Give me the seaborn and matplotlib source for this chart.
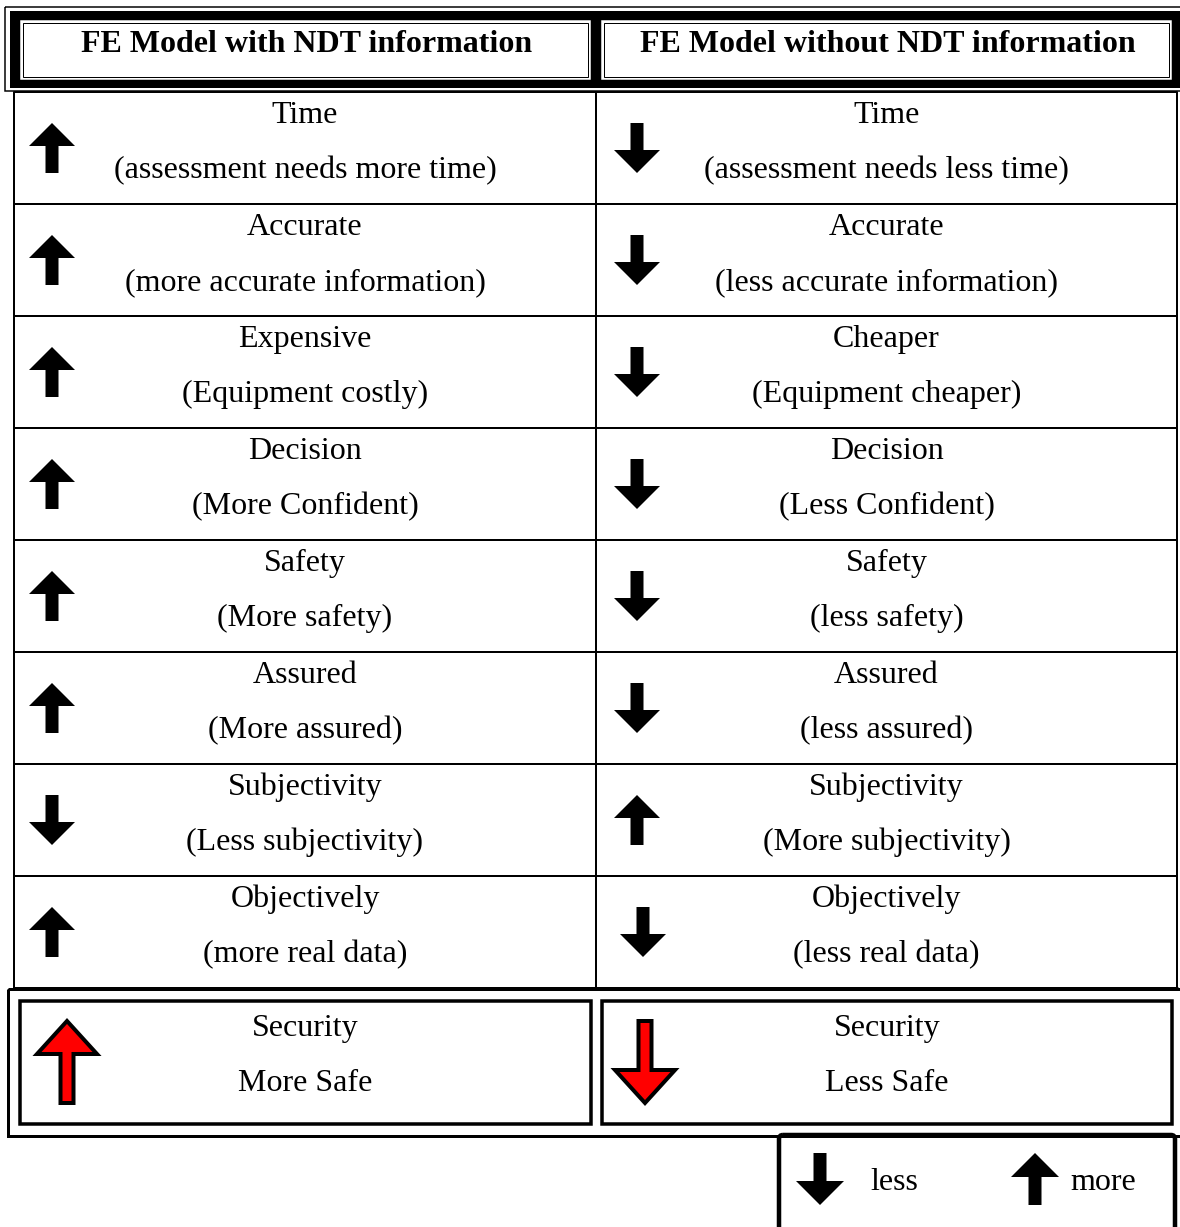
import matplotlib
matplotlib.use("Agg")
import matplotlib.pyplot as plt
import seaborn as sns
from matplotlib.patches import Rectangle, FancyArrow, FancyBboxPatch

sns.set_theme(style="white")
plt.rcParams['font.family'] = ['Liberation Serif', 'DejaVu Serif']

# ---- data ----
headers = ["FE Model with NDT information", "FE Model without NDT information"]
left_titles = ["Time", "Accurate", "Expensive", "Decision", "Safety", "Assured", "Subjectivity", "Objectively"]
left_subs = ["(assessment needs more time)", "(more accurate information)", "(Equipment costly)",
             "(More Confident)", "(More safety)", "(More assured)", "(Less subjectivity)", "(more real data)"]
left_dirs = [1, 1, 1, 1, 1, 1, -1, 1]
right_titles = ["Time", "Accurate", "Cheaper", "Decision", "Safety", "Assured", "Subjectivity", "Objectively"]
right_subs = ["(assessment needs less time)", "(less accurate information)", "(Equipment cheaper)",
              "(Less Confident)", "(less safety)", "(less assured)", "(More subjectivity)", "(less real data)"]
right_dirs = [-1, -1, -1, -1, -1, -1, 1, -1]
summary_title = ["Security", "Security"]
summary_sub = ["More Safe", "Less Safe"]
summary_dirs = [1, -1]
legend_labels = ["less", "more"]
legend_dirs = [-1, 1]

W, H = 1180, 1227
fig = plt.figure(figsize=(W / 100, H / 100), dpi=100)
ax = fig.add_axes([0, 0, 1, 1])
ax.set_xlim(0, W)
ax.set_ylim(H, 0)
ax.axis("off")

PX = 72 / 100  # points per pixel
FS = 23


def arrow(x, yc, d, length=50, shaft=13, hw=46, hl=23, fc="black", ec="black", lw=0):
    y0 = yc + d * length / 2
    a = FancyArrow(x, y0, 0, -d * length, width=shaft, head_width=hw, head_length=hl,
                   length_includes_head=True, fc=fc, ec=ec, lw=lw, joinstyle="miter", zorder=5)
    ax.add_patch(a)


def label(x, y, s, **kw):
    ax.text(x, y, s, ha=kw.pop("ha", "center"), va="center_baseline", fontsize=FS, color="black", **kw)


# ---- header ----
ax.add_patch(Rectangle((5, 7), 1180, 84, fill=False, ec="black", lw=1.5 * PX))
ax.add_patch(Rectangle((10, 11), 1175, 77, fc="black", ec="none"))
cell_x = [(19, 592), (600, 1173)]
for (x0, x1), h in zip(cell_x, headers):
    ax.add_patch(Rectangle((x0, 19), x1 - x0, 62, fc="white", ec="black", lw=2.5 * PX))
    ax.add_patch(Rectangle((x0 + 4, 23), x1 - x0 - 8, 54, fill=False, ec="black", lw=1 * PX))
    label((x0 + x1) / 2 + 1, 41, h, fontweight="bold")

# ---- body ----
top, rh = 92, 112
n = len(left_titles)
xl, xm, xr = 14, 596, 1177
bottom = top + n * rh
for i in range(n + 1):
    ax.plot([xl, xr], [top + i * rh, top + i * rh], color="black", lw=2 * PX, solid_capstyle="butt")
for x in (xl, xm, xr):
    ax.plot([x, x], [top, bottom], color="black", lw=2 * PX)

cols = [(xl, xm, left_titles, left_subs, left_dirs, 52),
        (xm, xr, right_titles, right_subs, right_dirs, 637)]
for x0, x1, titles, subs, dirs, ax_x in cols:
    cx = (x0 + x1) / 2
    for i in range(n):
        rt = top + i * rh
        label(cx, rt + 20, titles[i])
        label(cx, rt + 75, subs[i])
        arrow(ax_x + (6 if (x0 == xm and i == n - 1) else 0), rt + 56, dirs[i])

# ---- summary (security) ----
ax.add_patch(Rectangle((8, bottom + 1), 1180, 147, fill=False, ec="black", lw=3 * PX))
ax.plot([xl, xr], [bottom, bottom], color="black", lw=3 * PX)
sum_x = [(20, 591, 67, 305), (602, 1172, 645, 887)]
for (x0, x1, axx, cx), t, s, d in zip(sum_x, summary_title, summary_sub, summary_dirs):
    ax.add_patch(Rectangle((x0, 1001), x1 - x0, 123, fill=False, ec="black", lw=3.5 * PX))
    label(cx, 1025, t)
    label(cx, 1080, s)
    arrow(axx, 1062, d, length=82, shaft=13, hw=60, hl=33, fc="red", ec="black", lw=4 * PX)

# ---- legend ----
ax.add_patch(FancyBboxPatch((779, 1135), 396, 120, boxstyle="round,pad=0,rounding_size=4",
                            fill=False, ec="black", lw=4.5 * PX))
leg_x = [(820, 870), (1035, 1070)]
for (axx, tx), lab, d in zip(leg_x, legend_labels, legend_dirs):
    arrow(axx, 1179, d, length=52, shaft=13, hw=48, hl=24)
    label(tx, 1179, lab, ha="left")

fig.savefig("out.png", dpi=100, facecolor="white")
